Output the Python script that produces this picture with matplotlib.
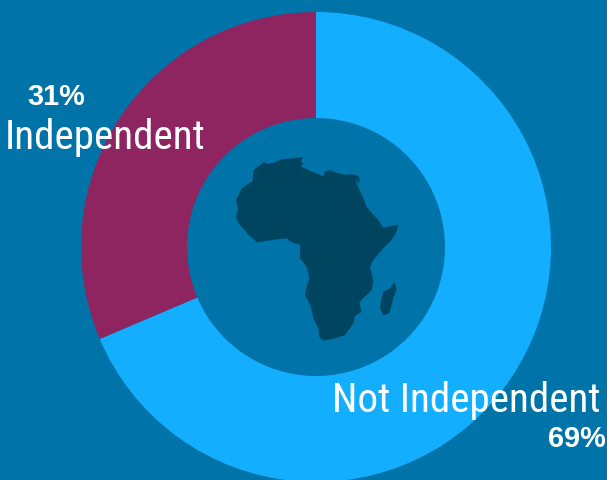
import matplotlib
matplotlib.use("Agg")
import matplotlib.pyplot as plt
from matplotlib.patches import Polygon
from matplotlib import font_manager as fm

categories = ["Not Independent", "Independent"]
shares = [68.6, 31.4]
share_labels = ["69%", "31%"]

BG = "#0073A8"; LIGHT = "#14AEFF"; MAROON = "#8E2561"; LAND = "#004560"
W, H = 607, 481
CX, CY, R_OUT, R_IN = 316, 247, 235, 129

africa_px = [(263.7,161.7),(267,164),(273.7,162.7),(282,159.3),(292,158.3),(302.7,157.3),(301.3,161),(303,164),
 (301.3,166.7),(310.3,171),(318.3,174),(323.3,176.7),(325,171.7),(330,170),(338.3,173.3),(346.7,175),(351.7,174),
 (358.3,176),(360,180),(358.3,183.3),(355,178.3),(357.3,185),(363.3,198.3),(366.7,206.7),(370.7,211.7),(378.3,220),
 (383.3,227.7),(398.3,224.7),(396.7,231.7),(391.7,240),(383.3,248.3),(373.3,260),(370,266.7),(371.7,273.3),
 (373.3,281.7),(371.7,290),(363.3,298.3),(359.3,302.7),(361.7,311.7),(355,316),(353.3,323.3),(345,335),(335,338.3),
 (323.3,340.7),(319.3,336.7),(318.3,328.3),(313.3,318.3),(311,306.7),(305,295),(306.7,286.7),(309.3,278.3),
 (306.7,266.7),(300,258.3),(300.3,250),(300,245),(290.3,241.7),(287,238.3),(272,240),(257,242.3),(248.7,235),
 (238.7,223.3),(236,217.7),(238,208.3),(236,200),(242,188.3),(252.7,180.7),(253.7,170),(260.3,165)]
madagascar_px = [(394.3,282.3),(396.7,288.3),(393.3,298.3),(389.3,313.3),(383.3,315.3),(380,308.3),(381.7,298.3),
 (383.3,291.7),(390,288.3)]

names = {f.name for f in fm.fontManager.ttflist}
narrow = "Roboto Condensed" if "Roboto Condensed" in names else "Roboto"

fig = plt.figure(figsize=(W/100, H/100), dpi=100, facecolor=BG)
ax = fig.add_axes([0, 0, 1, 1])

ax.pie(shares, colors=[LIGHT, MAROON], startangle=90, counterclock=False, center=(CX, H-CY), radius=R_OUT,
       wedgeprops=dict(width=R_OUT-R_IN, linewidth=0), frame=True)
ax.set_xlim(0, W); ax.set_ylim(1, H+1); ax.set_aspect("equal"); ax.axis("off")

def to_xy(points):
    return [(x, H - y) for x, y in points]

ax.add_patch(Polygon(to_xy(africa_px), closed=True, facecolor=LAND, edgecolor="none"))
ax.add_patch(Polygon(to_xy(madagascar_px), closed=True, facecolor=LAND, edgecolor="none"))

ax.text(601, H-411, categories[0], family=narrow, fontsize=29.6, color="white", ha="right", va="baseline")
ax.text(205.5, H-148, categories[1], family=narrow, fontsize=29.6, color="white", ha="right", va="baseline")
ax.text(606, H-446, share_labels[0], family="Liberation Sans", fontweight="bold", fontsize=20.8, color="white", ha="right", va="baseline")
ax.text(85.5, H-104, share_labels[1], family="Liberation Sans", fontweight="bold", fontsize=20.8, color="white", ha="right", va="baseline")

fig.savefig("out.png", dpi=100, facecolor=BG)
